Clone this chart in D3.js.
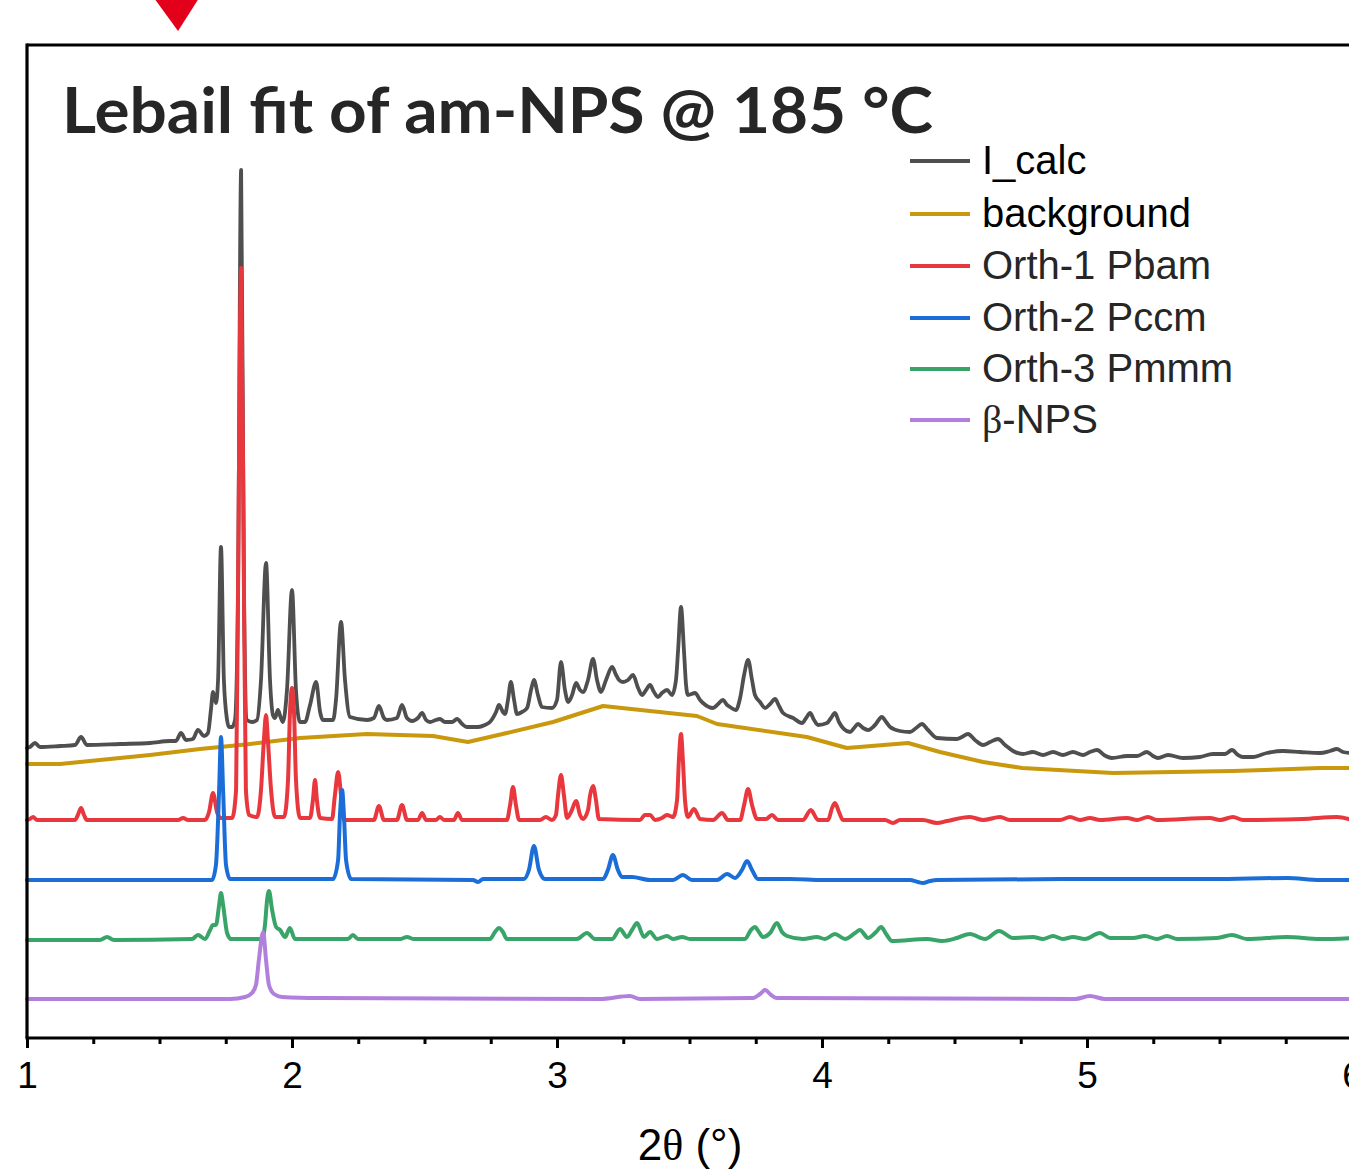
<!DOCTYPE html>
<html><head><meta charset="utf-8">
<script src="https://cdn.jsdelivr.net/npm/d3@7/dist/d3.min.js"></script>
<style>body{margin:0;background:#fff;overflow:hidden}</style>
</head><body>
<svg id="chart" width="1349" height="1170"></svg>
<script>
// ---------- data (2θ in degrees, intensity in a.u.) ----------
const titleText = "Lebail fit of am-NPS @ 185 °C";
const xTickValues = [1, 2, 3, 4, 5, 6];
const xMinorTicks = [1.25, 1.5, 1.75, 2.25, 2.5, 2.75, 3.25, 3.5, 3.75, 4.25, 4.5, 4.75, 5.25, 5.5, 5.75];
const markerAt = [1.57];

const seriesNames = ["I_calc", "background", "Orth-1 Pbam", "Orth-2 Pccm", "Orth-3 Pmmm", "β-NPS"];
const seriesColors = ["#4f4f4f", "#c9980c", "#e8383e", "#1b6ed8", "#38a468", "#b17fdc"];

const iCalc = [[1.000,290],[1.011,291],[1.030,295],[1.049,291],[1.125,292],[1.181,293],[1.204,301],[1.226,293],[1.351,294],[1.464,295],[1.540,297],[1.562,297],[1.581,305],[1.600,298],[1.626,299],[1.645,308],[1.668,302],[1.683,305],[1.694,328],[1.702,346],[1.713,335],[1.721,358],[1.732,491],[1.743,358],[1.755,318],[1.762,311],[1.774,311],[1.785,318],[1.796,438],[1.808,868],[1.819,438],[1.830,318],[1.849,316],[1.868,318],[1.883,358],[1.902,475],[1.917,358],[1.928,323],[1.936,320],[1.947,328],[1.958,320],[1.966,316],[1.981,348],[2.000,448],[2.015,348],[2.030,316],[2.049,316],[2.068,333],[2.091,356],[2.106,326],[2.117,318],[2.155,318],[2.166,338],[2.185,416],[2.200,358],[2.219,321],[2.283,318],[2.309,320],[2.328,332],[2.347,320],[2.358,318],[2.396,320],[2.415,333],[2.434,320],[2.453,317],[2.475,320],[2.491,325],[2.506,318],[2.521,316],[2.543,318],[2.558,319],[2.577,316],[2.604,316],[2.623,319],[2.642,314],[2.660,311],[2.702,311],[2.728,313],[2.747,316],[2.770,326],[2.781,333],[2.796,326],[2.804,324],[2.815,338],[2.826,356],[2.838,338],[2.849,324],[2.868,326],[2.887,330],[2.902,348],[2.913,358],[2.928,343],[2.943,331],[2.981,330],[3.000,338],[3.015,376],[3.030,348],[3.042,336],[3.057,343],[3.072,355],[3.087,348],[3.098,346],[3.117,358],[3.136,379],[3.151,358],[3.166,346],[3.185,358],[3.208,371],[3.223,363],[3.234,358],[3.249,356],[3.268,358],[3.287,363],[3.306,350],[3.321,343],[3.336,348],[3.351,353],[3.366,346],[3.381,341],[3.396,345],[3.415,348],[3.434,343],[3.449,358],[3.457,388],[3.468,431],[3.479,388],[3.487,353],[3.494,343],[3.521,345],[3.540,338],[3.551,335],[3.589,330],[3.608,334],[3.626,338],[3.642,333],[3.653,331],[3.675,328],[3.691,340],[3.706,363],[3.721,378],[3.736,358],[3.747,343],[3.766,336],[3.785,330],[3.804,334],[3.823,339],[3.838,332],[3.853,325],[3.891,320],[3.925,315],[3.940,320],[3.955,325],[3.970,318],[3.985,313],[4.019,315],[4.034,320],[4.049,325],[4.064,316],[4.079,310],[4.106,306],[4.121,310],[4.136,314],[4.155,310],[4.174,308],[4.200,313],[4.226,321],[4.242,316],[4.257,311],[4.294,307],[4.332,306],[4.355,310],[4.377,314],[4.400,308],[4.434,300],[4.509,299],[4.528,301],[4.551,304],[4.577,298],[4.608,293],[4.634,296],[4.664,299],[4.691,293],[4.721,287],[4.758,284],[4.796,286],[4.834,283],[4.872,286],[4.909,283],[4.947,286],[4.985,283],[5.011,286],[5.038,288],[5.064,283],[5.094,280],[5.151,282],[5.189,282],[5.226,286],[5.249,282],[5.268,280],[5.306,283],[5.362,280],[5.426,281],[5.475,284],[5.521,284],[5.547,288],[5.570,283],[5.589,281],[5.626,281],[5.679,285],[5.740,287],[5.804,286],[5.879,285],[5.917,287],[5.943,289],[5.966,286],[6.000,285]];

const background = [[1.000,274],[1.125,274],[1.275,278],[1.464,283],[1.653,289],[1.842,294],[2.030,300],[2.283,304],[2.532,302],[2.664,296],[2.811,305],[2.985,316],[3.174,332],[3.528,322],[3.604,314],[3.943,301],[4.094,290],[4.325,295],[4.445,286],[4.608,276],[4.755,270],[5.098,265],[5.551,267],[5.879,270],[6.000,270]];

const orth1 = [[1.000,218],[1.011,219],[1.023,221],[1.038,218],[1.181,218],[1.192,223],[1.204,230],[1.215,223],[1.226,218],[1.570,218],[1.589,220],[1.608,218],[1.672,218],[1.687,226],[1.702,245],[1.717,226],[1.732,220],[1.774,220],[1.789,248],[1.796,438],[1.808,770],[1.819,438],[1.826,248],[1.838,223],[1.868,221],[1.883,248],[1.894,298],[1.902,323],[1.909,298],[1.921,248],[1.936,221],[1.970,221],[1.985,258],[1.992,323],[2.000,350],[2.008,323],[2.015,258],[2.030,220],[2.068,220],[2.079,238],[2.087,258],[2.094,238],[2.106,220],[2.151,219],[2.162,243],[2.174,266],[2.185,243],[2.196,218],[2.309,218],[2.328,232],[2.347,218],[2.396,218],[2.415,233],[2.434,218],[2.475,218],[2.491,225],[2.506,218],[2.543,218],[2.558,221],[2.574,218],[2.611,218],[2.626,225],[2.642,218],[2.811,218],[2.823,233],[2.834,251],[2.845,233],[2.857,218],[2.936,218],[2.958,221],[2.981,218],[2.996,223],[3.004,243],[3.015,263],[3.026,243],[3.038,220],[3.053,226],[3.072,237],[3.087,223],[3.098,219],[3.117,228],[3.125,243],[3.136,252],[3.147,238],[3.158,219],[3.313,218],[3.332,223],[3.351,223],[3.370,218],[3.396,220],[3.415,223],[3.438,221],[3.453,238],[3.460,278],[3.468,304],[3.475,278],[3.483,238],[3.494,221],[3.517,229],[3.540,219],[3.589,218],[3.623,225],[3.645,218],[3.691,218],[3.706,233],[3.721,249],[3.736,233],[3.755,219],[3.789,219],[3.811,223],[3.834,218],[3.928,218],[3.958,228],[3.985,218],[4.023,218],[4.038,230],[4.049,235],[4.064,226],[4.079,218],[4.238,218],[4.268,215],[4.294,218],[4.381,218],[4.434,215],[4.472,217],[4.558,221],[4.608,218],[4.672,221],[4.709,218],[4.898,218],[4.936,221],[4.974,218],[5.011,220],[5.049,218],[5.151,220],[5.189,218],[5.230,221],[5.264,218],[5.464,220],[5.502,218],[5.551,221],[5.589,218],[5.815,219],[5.943,221],[6.000,218]];

const orth2 = [[1.000,158],[1.698,158],[1.713,173],[1.725,248],[1.732,301],[1.740,248],[1.751,173],[1.766,159],[2.155,159],[2.174,178],[2.181,223],[2.189,248],[2.196,223],[2.204,178],[2.223,159],[2.683,158],[2.702,156],[2.721,159],[2.875,159],[2.894,168],[2.913,192],[2.932,168],[2.955,159],[3.174,159],[3.192,168],[3.211,183],[3.230,168],[3.245,161],[3.283,161],[3.351,158],[3.438,158],[3.475,163],[3.509,158],[3.604,158],[3.642,164],[3.672,160],[3.698,168],[3.717,177],[3.736,168],[3.758,159],[3.879,159],[4.004,158],[4.332,158],[4.362,156],[4.381,155],[4.408,157],[4.434,158],[4.985,159],[5.475,159],[5.755,160],[5.879,158],[6.000,158]];

const orth3 = [[1.000,98],[1.275,98],[1.302,101],[1.328,98],[1.623,99],[1.645,103],[1.672,99],[1.691,108],[1.702,113],[1.713,113],[1.725,133],[1.732,145],[1.740,133],[1.755,105],[1.770,99],[1.887,99],[1.898,113],[1.906,138],[1.913,147],[1.925,128],[1.940,111],[1.955,108],[1.974,101],[1.992,110],[2.011,99],[2.211,99],[2.230,103],[2.249,99],[2.408,99],[2.434,101],[2.460,99],[2.747,99],[2.766,106],[2.781,110],[2.796,106],[2.811,99],[3.075,99],[3.113,105],[3.143,99],[3.208,99],[3.238,109],[3.264,101],[3.283,108],[3.302,115],[3.328,101],[3.351,106],[3.377,99],[3.415,102],[3.438,99],[3.472,101],[3.502,99],[3.709,99],[3.732,108],[3.747,111],[3.762,106],[3.777,101],[3.804,105],[3.830,115],[3.849,106],[3.868,102],[3.928,99],[3.981,101],[4.011,99],[4.049,104],[4.087,99],[4.125,105],[4.143,108],[4.174,100],[4.204,106],[4.223,111],[4.242,104],[4.264,97],[4.396,99],[4.453,97],[4.509,100],[4.558,104],[4.615,99],[4.668,107],[4.721,100],[4.796,101],[4.834,99],[4.872,102],[4.909,99],[4.947,101],[4.992,99],[5.049,105],[5.087,100],[5.174,100],[5.219,102],[5.264,99],[5.302,102],[5.340,99],[5.491,100],[5.547,103],[5.604,99],[5.755,101],[5.879,99],[6.000,100]];

const betaNPS = [[1.000,39],[1.766,39],[1.823,41],[1.849,45],[1.864,53],[1.875,78],[1.891,106],[1.902,78],[1.913,53],[1.932,44],[1.962,41],[2.106,40],[3.162,39],[3.275,42],[3.313,39],[3.740,40],[3.766,44],[3.785,48],[3.808,43],[3.830,40],[4.955,39],[5.011,42],[5.068,39],[6.000,39]];

const seriesData = [iCalc, background, orth1, orth2, orth3, betaNPS];

// ---------- chart ----------
const svg = d3.select("#chart");
svg.append("rect").attr("width", 1349).attr("height", 1170).attr("fill", "#fff");

const plot = {left: 27, right: 1352, top: 45, bottom: 1038};
const x = d3.scaleLinear().domain([1, 6]).range([plot.left, plot.right]);
const y = d3.scaleLinear().domain([0, 993]).range([plot.bottom, plot.top]);

// series lines
const smooth = d3.line().x(d => x(d[0])).y(d => y(d[1])).curve(d3.curveMonotoneX);
const straight = d3.line().x(d => x(d[0])).y(d => y(d[1])).curve(d3.curveLinear);

svg.append("g").selectAll("path")
  .data(seriesData)
  .join("path")
  .attr("d", (d, i) => i === 1 ? straight(d) : smooth(d))
  .attr("fill", "none")
  .attr("stroke", (d, i) => seriesColors[i])
  .attr("stroke-width", (d, i) => i === 0 ? 3.8 : 4)
  .attr("stroke-linejoin", "round")
  .attr("stroke-linecap", "round");

// frame (top + left)
svg.append("line").attr("x1", plot.left).attr("x2", plot.right + 5)
  .attr("y1", plot.top).attr("y2", plot.top)
  .attr("stroke", "#000").attr("stroke-width", 3.2);
svg.append("line").attr("x1", plot.left).attr("x2", plot.left)
  .attr("y1", plot.top - 1.5).attr("y2", plot.bottom)
  .attr("stroke", "#000").attr("stroke-width", 3.2);

// x axis
const axisMajor = d3.axisBottom(x).tickValues(xTickValues).tickSize(10).tickFormat(d3.format("d")).tickPadding(14);
const gx = svg.append("g").attr("transform", `translate(0,${plot.bottom})`).call(axisMajor);
gx.select(".domain").attr("stroke", "#000").attr("stroke-width", 3.2)
  .attr("d", `M${plot.left - 1.5},0H${plot.right + 5}`);
gx.selectAll(".tick line").attr("stroke", "#000").attr("stroke-width", 3);
gx.selectAll(".tick text").attr("fill", "#000")
  .style("font-family", "'Liberation Sans', Arial, sans-serif").style("font-size", "37px");

const axisMinor = d3.axisBottom(x).tickValues(xMinorTicks).tickSize(6).tickFormat("");
const gm = svg.append("g").attr("transform", `translate(0,${plot.bottom})`).call(axisMinor);
gm.select(".domain").remove();
gm.selectAll(".tick line").attr("stroke", "#000").attr("stroke-width", 3);

// x axis title
const xt = svg.append("text").attr("x", 690).attr("y", 1160).attr("text-anchor", "middle")
  .style("font-family", "'Liberation Sans', Arial, sans-serif").style("font-size", "44px").attr("fill", "#000");
xt.append("tspan").text("2");
xt.append("tspan").style("font-family", "'Liberation Serif', 'Times New Roman', serif").text("θ");
xt.append("tspan").text(" (°)");

// title
svg.append("text").attr("x", 62).attr("y", 133)
  .attr("textLength", 871).attr("lengthAdjust", "spacingAndGlyphs")
  .style("font-family", "Lato, 'Open Sans', sans-serif").style("font-weight", 700)
  .style("font-size", "63px").attr("fill", "#262626").text(titleText);

// legend
const legendY = [161, 214, 266, 318, 369, 420];
const lg = svg.append("g").selectAll("g").data(seriesNames).join("g")
  .attr("transform", (d, i) => `translate(910,${legendY[i]})`);
lg.append("line").attr("x1", 0).attr("x2", 60).attr("y1", 0).attr("y2", 0)
  .attr("stroke", (d, i) => seriesColors[i]).attr("stroke-width", 4);
lg.append("text").attr("x", 72).attr("y", 13)
  .style("font-family", "'Liberation Sans', Arial, sans-serif").style("font-size", "40px")
  .attr("fill", (d, i) => i < 2 ? "#000" : "#262626")
  .each(function(d) {
    const t = d3.select(this);
    if (d.startsWith("β")) {
      t.append("tspan").style("font-family", "'Liberation Serif', serif").text("β");
      t.append("tspan").text(d.slice(1));
    } else {
      t.text(d);
    }
  });

// red marker triangle at top
svg.append("g").selectAll("path").data(markerAt).join("path")
  .attr("d", d => {
    const cx = x(d);
    return `M${cx - 24},-2L${cx + 21},-2L${cx},31Z`;
  })
  .attr("fill", "#e3001b");
</script>
</body></html>
